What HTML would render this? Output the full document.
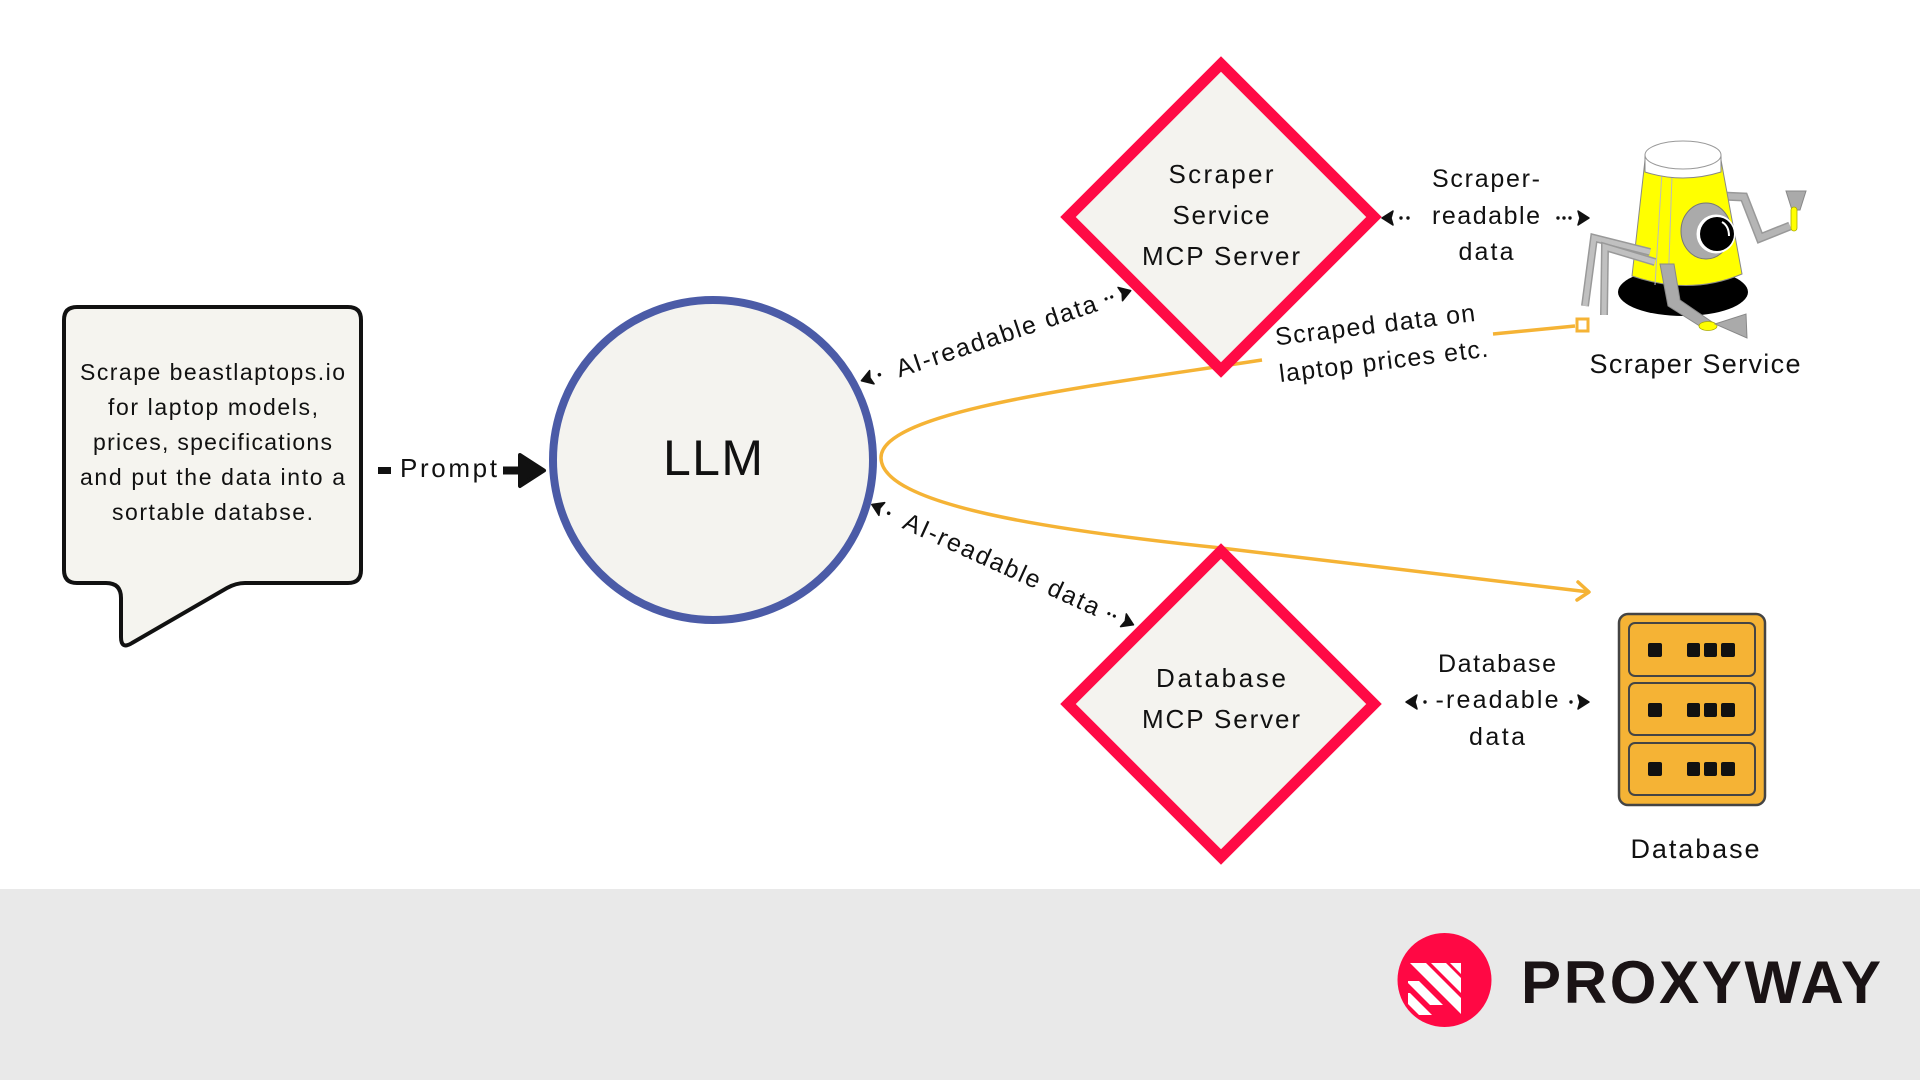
<!DOCTYPE html>
<html><head><meta charset="utf-8"><style>
html,body{margin:0;padding:0;background:#fff;}
svg{display:block;}
text{font-family:"Liberation Sans",sans-serif;fill:#111;}
</style></head><body>
<svg width="1920" height="1080" viewBox="0 0 1920 1080" xmlns="http://www.w3.org/2000/svg">
<rect width="1920" height="1080" fill="#fff"/>
<rect x="0" y="889" width="1920" height="191" fill="#e9e9e9"/>

<!-- Speech bubble -->
<path d="M77,307 H348 Q361,307 361,320 V570 Q361,583 348,583 H245 Q236,583 227,588 L132,643 Q121,650 121,637 V598 Q121,583 106,583 H77 Q64,583 64,570 V320 Q64,307 77,307 Z" fill="#f5f4ef" stroke="#111" stroke-width="4" stroke-linejoin="round"/>
<g font-size="23" text-anchor="middle">
<text x="212.5" y="380" textLength="265">Scrape beastlaptops.io</text>
<text x="213" y="415" textLength="210">for laptop models,</text>
<text x="212.5" y="450" textLength="239">prices, specifications</text>
<text x="212.5" y="485" textLength="265">and put the data into a</text>
<text x="212.5" y="520" textLength="201">sortable databse.</text>
</g>

<!-- Prompt arrow -->
<rect x="378" y="467" width="13" height="7" fill="#111"/>
<text x="448.5" y="477" font-size="26" text-anchor="middle" textLength="97">Prompt</text>
<rect x="503" y="466.5" width="20" height="8" fill="#111"/>
<polygon points="520,455 544,470.5 520,486" fill="#111" stroke="#111" stroke-width="4" stroke-linejoin="round"/>

<!-- orange curve -->
<path d="M1262,360 C1100,385 880,410 881,458 C882,505 1050,530 1221,548 L1589,592" fill="none" stroke="#f5b335" stroke-width="3.5"/>
<polyline points="1578,582 1589,592 1577,600" fill="none" stroke="#f5b335" stroke-width="3.5" stroke-linecap="round" stroke-linejoin="round"/>

<!-- LLM -->
<circle cx="713" cy="460" r="160" fill="#f4f3ef" stroke="#4b5ba7" stroke-width="8"/>
<text x="713" y="475" font-size="50" text-anchor="middle" textLength="100">LLM</text>

<!-- Diamonds -->
<polygon points="1221,64 1374,217 1221,370 1068,217" fill="#f4f3ef" stroke="#ff0a45" stroke-width="11" stroke-linejoin="miter"/>
<polygon points="1221,551 1374,704 1221,857 1068,704" fill="#f4f3ef" stroke="#ff0a45" stroke-width="11" stroke-linejoin="miter"/>
<g font-size="26" text-anchor="middle">
<text x="1221" y="183" textLength="105">Scraper</text>
<text x="1221" y="224" textLength="97">Service</text>
<text x="1221" y="265" textLength="158">MCP Server</text>
<text x="1221" y="687" textLength="130">Database</text>
<text x="1221" y="728" textLength="158">MCP Server</text>
</g>

<!-- Upper AI-readable connector -->
<g transform="translate(997,338.5) rotate(-18.5)">
<path d="M-142,-3 L-131,-10 L-133,-3 L-131,4 Z" fill="#111" stroke="#111" stroke-width="1.5" stroke-linejoin="round"/>
<circle cx="-123" cy="-3" r="1.8" fill="#111"/>
<text x="0" y="6" font-size="25" text-anchor="middle" textLength="210">AI-readable data</text>
<circle cx="116" cy="-3" r="1.6" fill="#111"/>
<circle cx="122" cy="-3" r="1.6" fill="#111"/>
<path d="M142,-3 L131,-10 L133,-3 L131,4 Z" fill="#111" stroke="#111" stroke-width="1.5" stroke-linejoin="round"/>
</g>

<!-- Lower AI-readable connector -->
<g transform="translate(1002,566) rotate(24.5)">
<path d="M-144,-2 L-133,-9 L-135,-2 L-133,5 Z" fill="#111" stroke="#111" stroke-width="1.5" stroke-linejoin="round"/>
<circle cx="-125" cy="-1" r="1.8" fill="#111"/>
<text x="-1" y="7" font-size="25" text-anchor="middle" textLength="213">AI-readable data</text>
<circle cx="117" cy="-1" r="1.6" fill="#111"/>
<circle cx="123" cy="-1" r="1.6" fill="#111"/>
<path d="M144,-1 L133,-8 L135,-1 L133,6 Z" fill="#111" stroke="#111" stroke-width="1.5" stroke-linejoin="round"/>
</g>

<!-- Scraped data label -->
<g transform="translate(1378,349) rotate(-7)">
<text x="0" y="-16" font-size="25" text-anchor="middle" textLength="201">Scraped data on</text>
<text x="4" y="21" font-size="25" text-anchor="middle" textLength="210">laptop prices etc.</text>
</g>
<line x1="1493" y1="334" x2="1575" y2="326" stroke="#f5b335" stroke-width="3.5"/>
<rect x="1577" y="319" width="11" height="12" fill="#fff" stroke="#f5b335" stroke-width="3"/>

<!-- Scraper-readable -->
<g font-size="25" text-anchor="middle">
<text x="1486" y="187" textLength="108">Scraper-</text>
<text x="1486" y="224" textLength="108">readable</text>
<text x="1486" y="260" textLength="55">data</text>
</g>
<path d="M1382,218 L1393,211 L1391,218 L1393,225 Z" fill="#111" stroke="#111" stroke-width="1.5" stroke-linejoin="round"/>
<circle cx="1401" cy="218" r="1.7" fill="#111"/><circle cx="1408" cy="218" r="1.7" fill="#111"/>
<circle cx="1558" cy="218" r="1.7" fill="#111"/><circle cx="1564" cy="218" r="1.7" fill="#111"/><circle cx="1570" cy="218" r="1.7" fill="#111"/>
<path d="M1589,218 L1578,211 L1580,218 L1578,225 Z" fill="#111" stroke="#111" stroke-width="1.5" stroke-linejoin="round"/>

<!-- Database-readable -->
<g font-size="25" text-anchor="middle">
<text x="1497" y="672" textLength="118">Database</text>
<text x="1497" y="708" textLength="123">-readable</text>
<text x="1497" y="745" textLength="56">data</text>
</g>
<path d="M1406,702 L1417,695 L1415,702 L1417,709 Z" fill="#111" stroke="#111" stroke-width="1.5" stroke-linejoin="round"/>
<circle cx="1425" cy="702" r="1.7" fill="#111"/>
<circle cx="1571" cy="702" r="1.7" fill="#111"/>
<path d="M1589,702 L1578,695 L1580,702 L1578,709 Z" fill="#111" stroke="#111" stroke-width="1.5" stroke-linejoin="round"/>

<!-- Robot -->
<g>
<polyline points="1722,196 1744,197 1760,238 1790,226" fill="none" stroke="#999" stroke-width="9" stroke-linejoin="miter"/>
<polyline points="1722,196 1744,197 1760,238 1790,226" fill="none" stroke="#b5b5b5" stroke-width="6" stroke-linejoin="miter"/>
<polygon points="1786,191 1806,191 1800,210 1792,210" fill="#aaa" stroke="#888" stroke-width="1"/>
<rect x="1791" y="207" width="6" height="24" rx="3" fill="#ff0" stroke="#aa0" stroke-width="0.8"/>
<ellipse cx="1683" cy="292" rx="65" ry="24" fill="#000"/>
<path d="M1645,160 L1721,160 L1742,274 Q1690,296 1632,276 Z" fill="#ff0" stroke="#888" stroke-width="1"/>
<line x1="1662" y1="172" x2="1655" y2="285" stroke="#bbb" stroke-width="1"/>
<line x1="1672" y1="175" x2="1668" y2="290" stroke="#bbb" stroke-width="1"/>
<path d="M1645,155 L1645,172 Q1683,184 1721,172 L1721,155 Z" fill="#fff" stroke="#888" stroke-width="1"/>
<ellipse cx="1683" cy="155" rx="38" ry="14" fill="#fff" stroke="#999" stroke-width="1"/>
<ellipse cx="1706" cy="231" rx="25" ry="28" fill="#aaa" stroke="#777" stroke-width="1"/>
<circle cx="1716" cy="234" r="19.5" fill="#fff"/>
<circle cx="1717" cy="234" r="17" fill="#000"/>
<path d="M1722,222 Q1729,226 1729,236" stroke="#fff" stroke-width="2" fill="none"/>
<polyline points="1650,252 1594,238 1585,306" fill="none" stroke="#999" stroke-width="8"/>
<polyline points="1650,252 1594,238 1585,306" fill="none" stroke="#c0c0c0" stroke-width="5"/>
<polyline points="1655,262 1605,247 1604,315" fill="none" stroke="#999" stroke-width="8"/>
<polyline points="1655,262 1605,247 1604,315" fill="none" stroke="#c0c0c0" stroke-width="5"/>
<polygon points="1660,264 1674,264 1680,300 1712,322 1706,330 1668,306" fill="#aaa" stroke="#888" stroke-width="1"/>
<ellipse cx="1708" cy="326" rx="9" ry="4.5" fill="#ff0" stroke="#aa0" stroke-width="0.8"/>
<polygon points="1715,324 1746,314 1747,338" fill="#aaa" stroke="#888" stroke-width="1"/>
</g>
<text x="1695" y="373" font-size="27" text-anchor="middle" textLength="211">Scraper Service</text>

<!-- Database icon -->
<rect x="1619" y="614" width="146" height="191" rx="9" fill="#f5b335" stroke="#444" stroke-width="2.5"/>
<g fill="none" stroke="#444" stroke-width="2">
<rect x="1629" y="623" width="126" height="53" rx="6"/>
<rect x="1629" y="683" width="126" height="52" rx="6"/>
<rect x="1629" y="743" width="126" height="52" rx="6"/>
</g>
<g fill="#111">
<rect x="1648" y="643" width="14" height="14" rx="2"/><rect x="1687" y="643" width="13" height="14" rx="2"/><rect x="1704" y="643" width="13" height="14" rx="2"/><rect x="1721" y="643" width="14" height="14" rx="2"/>
<rect x="1648" y="703" width="14" height="14" rx="2"/><rect x="1687" y="703" width="13" height="14" rx="2"/><rect x="1704" y="703" width="13" height="14" rx="2"/><rect x="1721" y="703" width="14" height="14" rx="2"/>
<rect x="1648" y="762" width="14" height="14" rx="2"/><rect x="1687" y="762" width="13" height="14" rx="2"/><rect x="1704" y="762" width="13" height="14" rx="2"/><rect x="1721" y="762" width="14" height="14" rx="2"/>
</g>
<text x="1695" y="858" font-size="27" text-anchor="middle" textLength="129">Database</text>

<!-- Logo -->
<defs><clipPath id="lc"><rect x="1408" y="963" width="53" height="52"/></clipPath></defs>
<circle cx="1444.5" cy="980" r="47" fill="#ff0844"/>
<g clip-path="url(#lc)" fill="#fff">
<polygon points="1410,963 1426,963 1478,1015 1462,1015"/>
<polygon points="1431,963 1446,963 1498,1015 1483,1015"/>
<polygon points="1450,963 1461,963 1513,1015 1502,1015"/>
<polygon points="1406,981 1419,981 1443,1005 1430,1005"/>
<polygon points="1397,993 1410,993 1432,1015 1419,1015"/>
</g>
<text x="1521" y="1003" font-size="60" font-weight="bold" textLength="360" style="fill:#1a1315">PROXYWAY</text>
</svg>
</body></html>
